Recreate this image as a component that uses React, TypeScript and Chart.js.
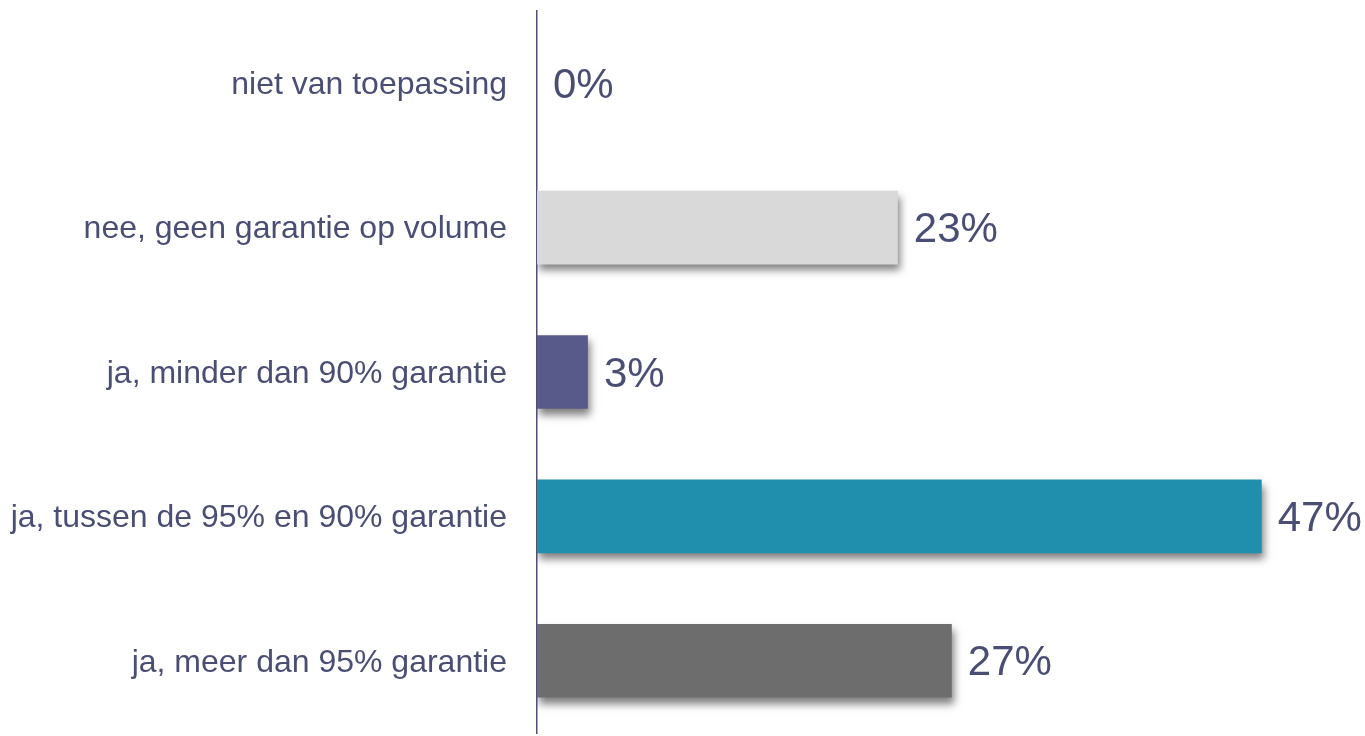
import React, { useEffect, useRef } from "react";
import { Chart, registerables } from "chart.js";

Chart.register(...registerables);

const categories = [
  "niet van toepassing",
  "nee, geen garantie op volume",
  "ja, minder dan 90% garantie",
  "ja, tussen de 95% en 90% garantie",
  "ja, meer dan 95% garantie",
];
const values = [0, 23.4, 3.3, 47, 26.9];
const valueLabels = ["0%", "23%", "3%", "47%", "27%"];
const barColors = ["#d9d9d9", "#d9d9d9", "#585a8a", "#208ead", "#6d6d6d"];

const TEXT = "#4b4e74";

const shadowPlugin = {
  id: "barShadow",
  beforeDatasetsDraw(chart: any) {
    const ctx = chart.ctx;
    ctx.save();
    ctx.shadowColor = "rgba(0,0,0,0.5)";
    ctx.shadowBlur = 8;
    ctx.shadowOffsetX = 2;
    ctx.shadowOffsetY = 6;
  },
  afterDatasetsDraw(chart: any) {
    chart.ctx.restore();
  },
};

const labelPlugin = {
  id: "valueLabels",
  afterDraw(chart: any) {
    const ctx = chart.ctx;
    const meta = chart.getDatasetMeta(0);
    ctx.save();
    ctx.font = "42px 'Liberation Sans', Arial, sans-serif";
    ctx.fillStyle = TEXT;
    ctx.textAlign = "left";
    ctx.textBaseline = "middle";
    meta.data.forEach((bar: any, i: number) => {
      ctx.fillText(valueLabels[i], bar.x + 16, bar.y + 3);
    });
    ctx.restore();
  },
};

export default function App() {
  const ref = useRef<HTMLCanvasElement>(null);
  useEffect(() => {
    if (!ref.current) return;
    const chart = new Chart(ref.current, {
      type: "bar",
      data: {
        labels: categories,
        datasets: [
          {
            data: values,
            backgroundColor: barColors,
            borderWidth: 0,
            categoryPercentage: 1,
            barPercentage: 0.51,
          },
        ],
      },
      options: {
        indexAxis: "y",
        animation: false,
        responsive: false,
        maintainAspectRatio: false,
        layout: { padding: { top: 11, bottom: 3, left: 0, right: 0 } },
        plugins: {
          legend: { display: false },
          tooltip: { enabled: false },
        },
        scales: {
          x: {
            display: false,
            min: 0,
            max: 53.7,
          },
          y: {
            grid: { display: false, drawTicks: false },
            border: { display: true, color: "#4f5078", width: 1.5 },
            ticks: {
              padding: 30,
              labelOffset: 2,
              color: TEXT,
              font: { size: 32, family: "'Liberation Sans', Arial, sans-serif" },
            },
            afterFit(scale: any) {
              scale.width = 537;
              scale.paddingTop = 0;
              scale.paddingBottom = 0;
            },
          },
        },
      },
      plugins: [shadowPlugin, labelPlugin],
    });
    return () => chart.destroy();
  }, []);
  return (
    <div style={{ position: "fixed", left: 0, top: 0, width: 1365, height: 736, background: "#fff" }}>
      <canvas ref={ref} width={1365} height={736} style={{ display: "block" }} />
    </div>
  );
}
